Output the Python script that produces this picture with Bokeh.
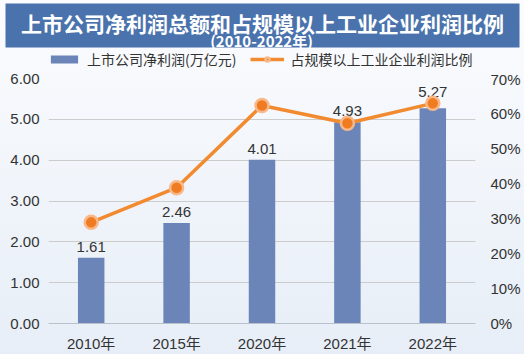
from bokeh.plotting import figure
from bokeh.models import (Range1d, LinearAxis, FactorRange, ColumnDataSource, Legend,
                          LegendItem, PrintfTickFormatter, FixedTicker)
from bokeh.layouts import column
from bokeh.core.properties import value
from bokeh.embed import file_html
from bokeh.resources import INLINE

# ---- data ----
years = ["2010年", "2015年", "2020年", "2021年", "2022年"]
profit = [1.61, 2.46, 4.01, 4.93, 5.27]          # 上市公司净利润(万亿元)
share = [28.9, 38.8, 62.3, 57.2, 62.9]           # 占规模以上工业企业利润比例 (%)
left_ticks = [0, 1, 2, 3, 4, 5, 6]
right_ticks = [0, 10, 20, 30, 40, 50, 60, 70]
title_main = "上市公司净利润总额和占规模以上工业企业利润比例"
title_sub = "(2010-2022年)"
bar_label = "上市公司净利润(万亿元)"
line_label = "占规模以上工业企业利润比例"

FONT = "Liberation Sans, Arial, Noto Sans CJK SC"
CJK = "Noto Sans CJK SC"
TXT = "#333333"
BAR_C = "#6b85b9"
LINE_C = "#f28a30"
PT_FILL, PT_EDGE = "#f07c22", "#f9b88a"
YMAX, PMAX = 6, 70
W = 524
HDR_H = 70

# value label sits above the bar, or above the line point when that point is close to the bar top
pt_left = [s * YMAX / PMAX for s in share]
label_y = [max(b, q) if abs(q - b) < 0.6 else b for b, q in zip(profit, pt_left)]

src = ColumnDataSource(dict(years=years, profit=profit, share=share, label_y=label_y,
                            lbl=["%.2f" % v for v in profit]))

# ---- banner + legend strip ----
hdr = figure(width=W, height=HDR_H, x_range=Range1d(0, W), y_range=Range1d(HDR_H, 0),
             output_backend="svg", toolbar_location=None, min_border=0)
hdr.frame_align = False
hdr.axis.visible = False
hdr.grid.visible = False
hdr.outline_line_color = None
hdr.background_fill_alpha = 0
hdr.border_fill_alpha = 0
hdr.quad(left=[5], right=[519], top=[3], bottom=[47], fill_color="#4a73ad", line_color=None)
hdr.text(x=[262], y=[22], text=[title_main], text_align="center", text_baseline="middle",
         text_color="white", text_font=value(CJK), text_font_style="bold",
         text_font_size="21px")
hdr.text(x=[261], y=[39.5], text=[title_sub], text_align="center", text_baseline="middle",
         text_color="white", text_font=value(CJK), text_font_style="bold",
         text_font_size="15px")

# legend swatches: same styling as the chart renderers (categorical x on this numeric
# strip is not drawn, the renderers only feed the legend)
lg_bar = hdr.vbar(x="years", top="profit", width=1, source=src, fill_color=BAR_C, line_color=None)
lg_line = hdr.line(x="years", y="share", source=src, line_color=LINE_C, line_width=3.5)
lg_pt = hdr.scatter(x="years", y="share", source=src, size=13, fill_color=PT_FILL,
                    line_color=PT_EDGE, line_width=2.5)
legend = Legend(items=[LegendItem(label=bar_label, renderers=[lg_bar]),
                       LegendItem(label=line_label, renderers=[lg_line, lg_pt])],
                orientation="horizontal", location=(47, 1), padding=0, margin=0,
                spacing=14, glyph_width=34, glyph_height=10, label_standoff=6,
                label_height=14,
                label_text_font=CJK, label_text_font_size="14px", label_text_color=TXT,
                background_fill_alpha=0, border_line_color=None)
hdr.add_layout(legend, "center")

# ---- main chart ----
p = figure(width=W, height=354 - HDR_H, x_range=FactorRange(*years), y_range=Range1d(0, YMAX),
           output_backend="svg", toolbar_location=None,
           min_border_left=48, min_border_right=49, min_border_top=8, min_border_bottom=29)
p.frame_align = False
p.background_fill_alpha = 0
p.border_fill_alpha = 0
p.outline_line_color = None
p.extra_y_ranges = {"pct": Range1d(0, PMAX)}

p.vbar(x="years", top="profit", width=0.31, source=src, fill_color=BAR_C, line_color=None)
p.text(x="years", y="label_y", text="lbl", source=src, text_align="center",
       text_baseline="bottom", y_offset=-6, text_color=TXT,
       text_font=value(FONT), text_font_size="15px")
p.line(x="years", y="share", source=src, y_range_name="pct", line_color=LINE_C, line_width=3.5)
p.scatter(x="years", y="share", source=src, y_range_name="pct", size=13,
          fill_color=PT_FILL, line_color=PT_EDGE, line_width=2.5)

# axes
p.yaxis.ticker = FixedTicker(ticks=left_ticks)
p.yaxis.formatter = PrintfTickFormatter(format="%.2f")
ra = LinearAxis(y_range_name="pct", ticker=FixedTicker(ticks=right_ticks),
                formatter=PrintfTickFormatter(format="%d%%"))
p.add_layout(ra, "right")
for ax in p.yaxis:
    ax.axis_line_color = None
    ax.major_tick_line_color = None
    ax.minor_tick_line_color = None
    ax.major_label_text_font = FONT
    ax.major_label_text_font_size = "15px"
    ax.major_label_text_color = TXT
    ax.major_label_standoff = 3
ra.major_label_standoff = 9
p.xaxis.axis_line_color = "#b8c0cc"
p.xaxis.major_tick_line_color = None
p.xaxis.minor_tick_line_color = None
p.xaxis.major_label_text_font = FONT
p.xaxis.major_label_text_font_size = "15px"
p.xaxis.major_label_text_color = TXT
p.xaxis.major_label_standoff = 5
p.xgrid.visible = False
p.ygrid.grid_line_color = "#cccccc"
p.ygrid.grid_line_width = 1

layout = column(hdr, p, spacing=0,
                styles={"background": "linear-gradient(180deg, #fbfcfe 0%, #e7eef7 100%)"})
open("out.html", "w").write(file_html(layout, INLINE))
